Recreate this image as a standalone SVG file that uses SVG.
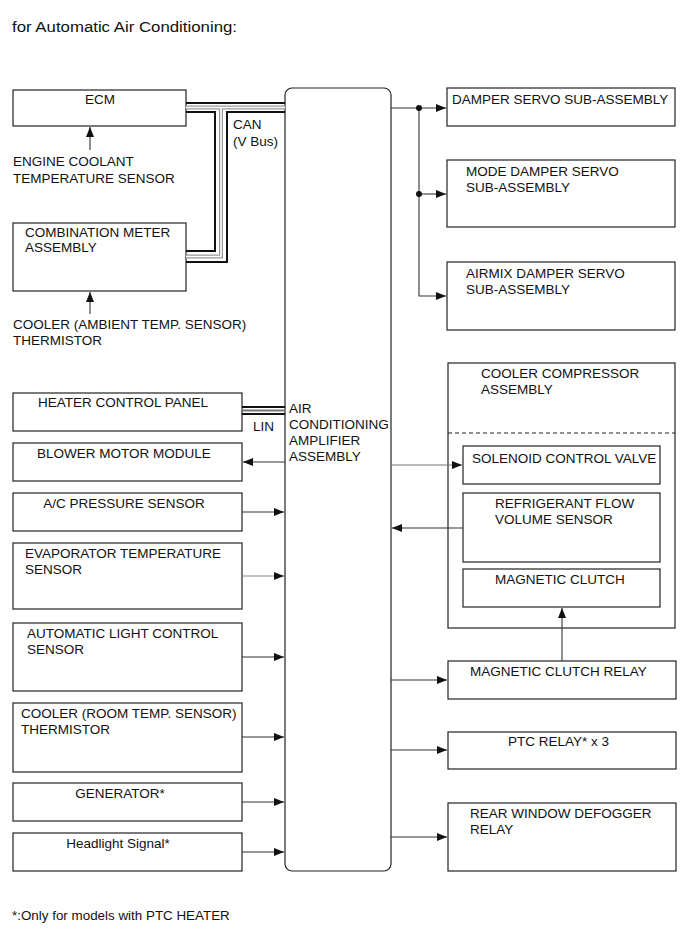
<svg xmlns="http://www.w3.org/2000/svg" width="690" height="952" viewBox="0 0 690 952">
<style>
text{font-family:"Liberation Sans",Arial,sans-serif;font-size:13.5px;fill:#111}
.c{text-anchor:middle}
.box{fill:#fff;stroke:#222;stroke-width:1.2}
.ln{fill:none;stroke:#333;stroke-width:1.1}
.bus{fill:none;stroke:#111;stroke-width:2}
.gry{fill:none;stroke:#999;stroke-width:4}
.wht{fill:none;stroke:#fff;stroke-width:1.6}
</style>
<defs>
<marker id="ah" markerUnits="userSpaceOnUse" markerWidth="10" markerHeight="8" refX="10" refY="4" orient="auto">
<path d="M0,0 L10,4 L0,8 Z" fill="#111"/>
</marker>
</defs>
<rect width="690" height="952" fill="#fff"/>
<text x="12" y="32" style="font-size:14px" textLength="225" lengthAdjust="spacingAndGlyphs">for Automatic Air Conditioning:</text>

<g id="amp">
<rect x="285" y="88" width="106" height="783" rx="7" ry="7" class="box"/>
<text x="289" y="413">AIR</text>
<text x="289" y="429">CONDITIONING</text>
<text x="289" y="445">AMPLIFIER</text>
<text x="289" y="461">ASSEMBLY</text>
</g>

<g id="ecm">
<rect x="13" y="90" width="173" height="36" class="box"/>
<text x="100" y="104" class="c">ECM</text>
</g>
<g id="ect-sensor">
<text x="13" y="166">ENGINE COOLANT</text>
<text x="13" y="183">TEMPERATURE SENSOR</text>
</g>
<g id="can-label">
<text x="233" y="129">CAN</text>
<text x="233" y="146">(V Bus)</text>
</g>
<g id="combination-meter">
<rect x="13" y="223" width="173" height="68" class="box"/>
<text x="25" y="237">COMBINATION METER</text>
<text x="25" y="252">ASSEMBLY</text>
</g>
<g id="ambient-sensor">
<text x="13" y="329">COOLER (AMBIENT TEMP. SENSOR)</text>
<text x="13" y="345">THERMISTOR</text>
</g>

<g id="heater-panel">
<rect x="13" y="393" width="229" height="38" class="box"/>
<text x="123" y="407" class="c">HEATER CONTROL PANEL</text>
</g>
<text x="253" y="431">LIN</text>
<g id="blower">
<rect x="13" y="443" width="229" height="38" class="box"/>
<text x="124" y="458" class="c">BLOWER MOTOR MODULE</text>
</g>
<g id="ac-pressure">
<rect x="13" y="493" width="229" height="38" class="box"/>
<text x="124" y="508" class="c">A/C PRESSURE SENSOR</text>
</g>
<g id="evaporator">
<rect x="13" y="543" width="229" height="66" class="box"/>
<text x="25" y="558">EVAPORATOR TEMPERATURE</text>
<text x="25" y="574">SENSOR</text>
</g>
<g id="auto-light">
<rect x="13" y="623" width="229" height="68" class="box"/>
<text x="27" y="638">AUTOMATIC LIGHT CONTROL</text>
<text x="27" y="654">SENSOR</text>
</g>
<g id="room-sensor">
<rect x="13" y="703" width="229" height="69" class="box"/>
<text x="21" y="718">COOLER (ROOM TEMP. SENSOR)</text>
<text x="21" y="734">THERMISTOR</text>
</g>
<g id="generator">
<rect x="13" y="783" width="229" height="38" class="box"/>
<text x="120" y="798" class="c">GENERATOR*</text>
</g>
<g id="headlight">
<rect x="13" y="833" width="229" height="38" class="box"/>
<text x="118" y="848" class="c">Headlight Signal*</text>
</g>

<g id="damper-servo">
<rect x="447" y="88" width="228" height="38" class="box"/>
<text x="452" y="104">DAMPER SERVO SUB-ASSEMBLY</text>
</g>
<g id="mode-damper">
<rect x="447" y="160" width="228" height="67" class="box"/>
<text x="466" y="176">MODE DAMPER SERVO</text>
<text x="466" y="192">SUB-ASSEMBLY</text>
</g>
<g id="airmix-damper">
<rect x="447" y="262" width="228" height="68" class="box"/>
<text x="466" y="278">AIRMIX DAMPER SERVO</text>
<text x="466" y="294">SUB-ASSEMBLY</text>
</g>

<g id="compressor">
<rect x="448" y="363" width="227" height="265" class="box"/>
<text x="481" y="378">COOLER COMPRESSOR</text>
<text x="481" y="394">ASSEMBLY</text>
<line x1="448" y1="433" x2="675" y2="433" stroke="#222" stroke-width="1.1" stroke-dasharray="4,3"/>
</g>
<g id="solenoid">
<rect x="463" y="446" width="197" height="38" class="box"/>
<text x="472" y="463">SOLENOID CONTROL VALVE</text>
</g>
<g id="refrigerant">
<rect x="463" y="493" width="197" height="69" class="box"/>
<text x="495" y="508">REFRIGERANT FLOW</text>
<text x="495" y="524">VOLUME SENSOR</text>
</g>
<g id="magnetic-clutch">
<rect x="463" y="569" width="197" height="38" class="box"/>
<text x="495" y="584">MAGNETIC CLUTCH</text>
</g>
<g id="clutch-relay">
<rect x="448" y="661" width="228" height="38" class="box"/>
<text x="470" y="676">MAGNETIC CLUTCH RELAY</text>
</g>
<g id="ptc-relay">
<rect x="448" y="732" width="228" height="37" class="box"/>
<text x="508" y="746">PTC RELAY* x 3</text>
</g>
<g id="defogger-relay">
<rect x="448" y="803" width="228" height="68" class="box"/>
<text x="470" y="818">REAR WINDOW DEFOGGER</text>
<text x="470" y="834">RELAY</text>
</g>

<g id="connectors">
<!-- CAN bus -->
<path class="gry" d="M186,107.5 H285 M221,107.5 V256.5 H186"/>
<path class="wht" d="M186,107.5 H285 M221,107.5 V256.5 H186"/>
<path class="bus" d="M186,103 H285"/>
<path class="bus" d="M186,112 H215 V251 H186"/>
<path class="bus" d="M285,112 H227 V262 H186"/>
<!-- LIN bus -->
<path class="bus" d="M242,407 H285"/>
<path class="ln" d="M242,410.5 H285" style="stroke-width:2;stroke:#777"/>
<path class="bus" d="M242,414 H285"/>
<!-- sensor arrows -->
<path class="ln" d="M90,150 V127" marker-end="url(#ah)"/>
<path class="ln" d="M90,314 V292" marker-end="url(#ah)"/>
<!-- left side -->
<path class="ln" d="M285,462 H243" marker-end="url(#ah)"/>
<path class="ln" d="M242,512 H284" marker-end="url(#ah)"/>
<path class="ln" d="M242,576 H284" marker-end="url(#ah)" style="stroke:#888"/>
<path class="ln" d="M242,657 H284" marker-end="url(#ah)"/>
<path class="ln" d="M242,737 H284" marker-end="url(#ah)"/>
<path class="ln" d="M242,802 H284" marker-end="url(#ah)"/>
<path class="ln" d="M242,852 H284" marker-end="url(#ah)"/>
<!-- right side dampers -->
<path class="ln" d="M391,108 H446" marker-end="url(#ah)"/>
<path class="ln" d="M419,108 V296 H446" marker-end="url(#ah)"/>
<path class="ln" d="M419,194 H446" marker-end="url(#ah)"/>
<circle cx="419" cy="108" r="3" fill="#111"/>
<circle cx="419" cy="194" r="3" fill="#111"/>
<!-- compressor -->
<path class="ln" d="M391,465 H462" marker-end="url(#ah)" style="stroke:#777"/>
<path class="ln" d="M463,528 H392" marker-end="url(#ah)"/>
<path class="ln" d="M562,661 V608" marker-end="url(#ah)"/>
<!-- relays -->
<path class="ln" d="M391,680 H447" marker-end="url(#ah)"/>
<path class="ln" d="M391,750 H447" marker-end="url(#ah)"/>
<path class="ln" d="M391,837 H447" marker-end="url(#ah)"/>
</g>

<text x="12" y="920" style="font-size:13.4px">*:Only for models with PTC HEATER</text>
</svg>
